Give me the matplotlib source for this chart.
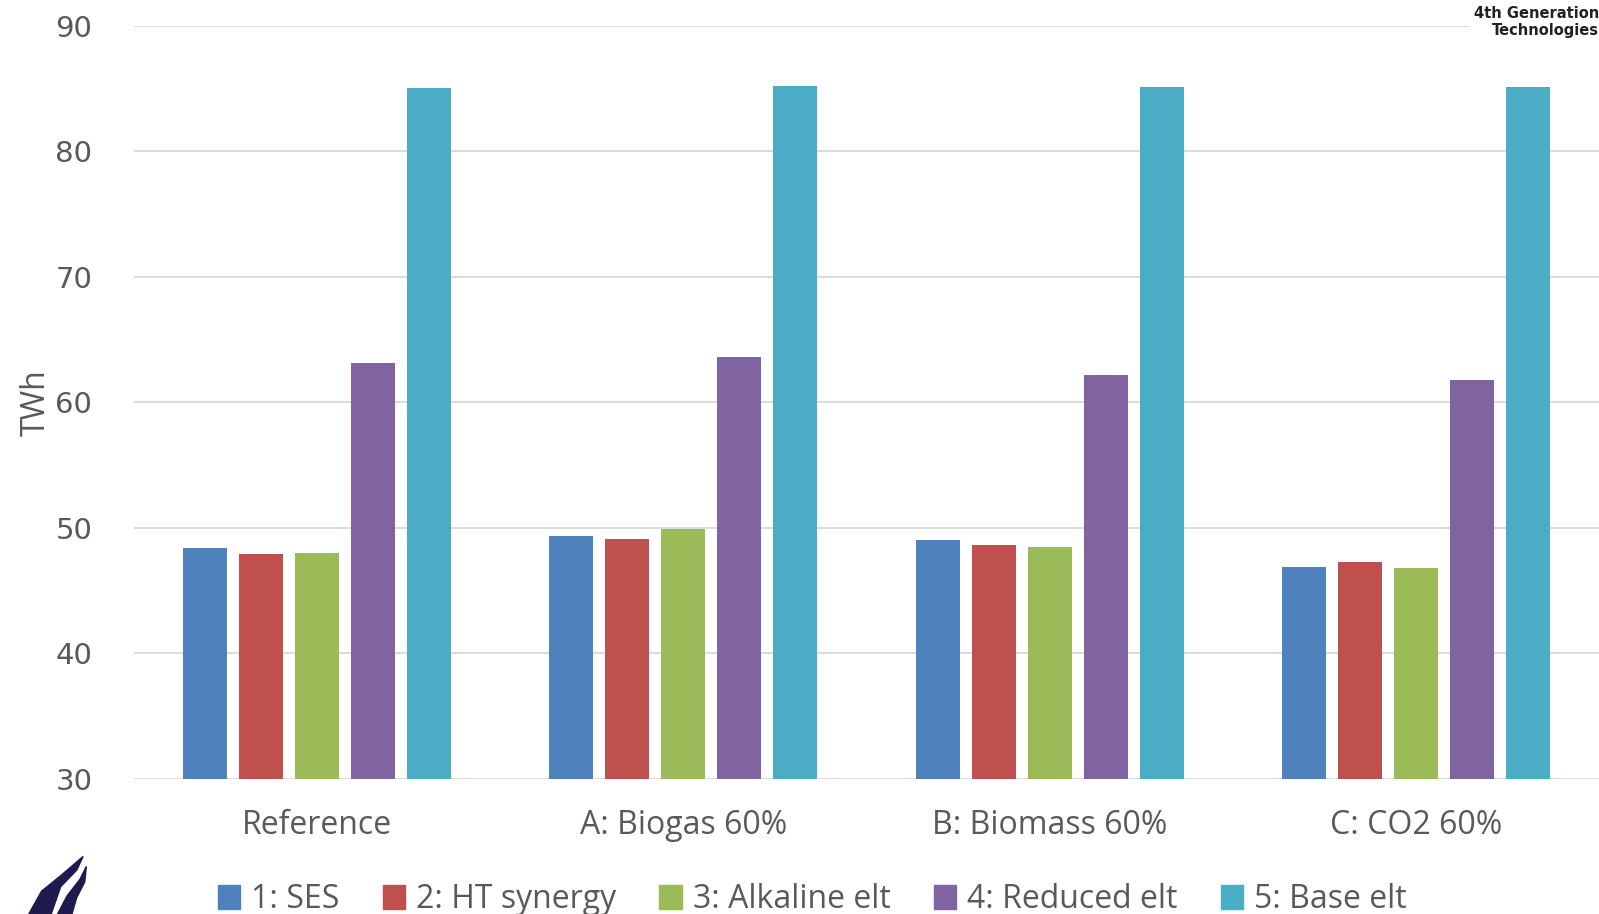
import numpy as np
import matplotlib.pyplot as plt
from matplotlib.patches import Patch, Polygon

scenarios = ["Reference", "A: Biogas 60%", "B: Biomass 60%", "C: CO2 60%"]
series_names = ["1: SES", "2: HT synergy", "3: Alkaline elt", "4: Reduced elt", "5: Base elt"]
ses = [48.4, 49.3, 49.0, 46.9]
ht_synergy = [47.9, 49.1, 48.6, 47.3]
alkaline = [48.0, 49.9, 48.5, 46.8]
reduced = [63.1, 63.6, 62.2, 61.8]
base = [85.0, 85.2, 85.1, 85.1]
colors = ["#4F81BD", "#C0504D", "#9BBB59", "#8064A2", "#4BACC6"]

all_series = [ses, ht_synergy, alkaline, reduced, base]

fig = plt.figure(figsize=(15.99, 9.14), dpi=100)
ax = fig.add_axes([0.0838, 0.148, 0.9162, 0.824])

x = np.arange(len(scenarios))
step = 0.153
width = 0.12
for i, (vals, c) in enumerate(zip(all_series, colors)):
    ax.bar(x + (i - 2) * step, np.array(vals) - 30, width, bottom=30, color=c, zorder=3)

ax.set_ylim(30, 90)
ax.set_xlim(-0.5, 3.5)
ax.set_yticks(range(30, 91, 10))
ax.grid(axis="y", color="#D9D9D9", linewidth=1.3, zorder=0)
for s in ax.spines.values():
    s.set_visible(False)
ax.tick_params(length=0)
ax.tick_params(axis="y", labelsize=21, labelcolor="#595959", pad=30)
ax.set_xticks(x)
ax.set_xticklabels(scenarios, fontsize=23, color="#595959", family="Open Sans")
ax.tick_params(axis="x", pad=22)
ax.set_ylabel("TWh", fontsize=23, color="#595959", family="Open Sans", labelpad=2)

handles = [Patch(color=c) for c in colors]
fig.legend(handles, series_names, ncol=5, loc="center", bbox_to_anchor=(0.508, 0.016),
           frameon=False, handlelength=0.7, handleheight=0.8,
           handletextpad=0.35, columnspacing=1.35,
           prop={"family": "Open Sans", "size": 23},
           labelcolor="#595959")

# label block in the upper right corner
fig.text(1.0, 0.976, "4th Generation\nTechnologies", ha="right", va="center",
         fontsize=10.5, fontweight="bold", color="#222222", linespacing=1.1,
         bbox=dict(facecolor="white", edgecolor="none", pad=3))

# small logo in the lower left corner
navy = "#1F1A4E"
logo = [
    [(0.018, 0.0), (0.026, 0.025), (0.038, 0.042), (0.052, 0.063), (0.048, 0.048), (0.038, 0.03), (0.032, 0.0)],
    [(0.036, 0.0), (0.042, 0.02), (0.05, 0.038), (0.054, 0.052), (0.053, 0.035), (0.048, 0.018), (0.045, 0.0)],
]
for pts in logo:
    fig.patches.append(Polygon(pts, closed=True, color=navy, transform=fig.transFigure))

fig.savefig("out.png", dpi=100)
